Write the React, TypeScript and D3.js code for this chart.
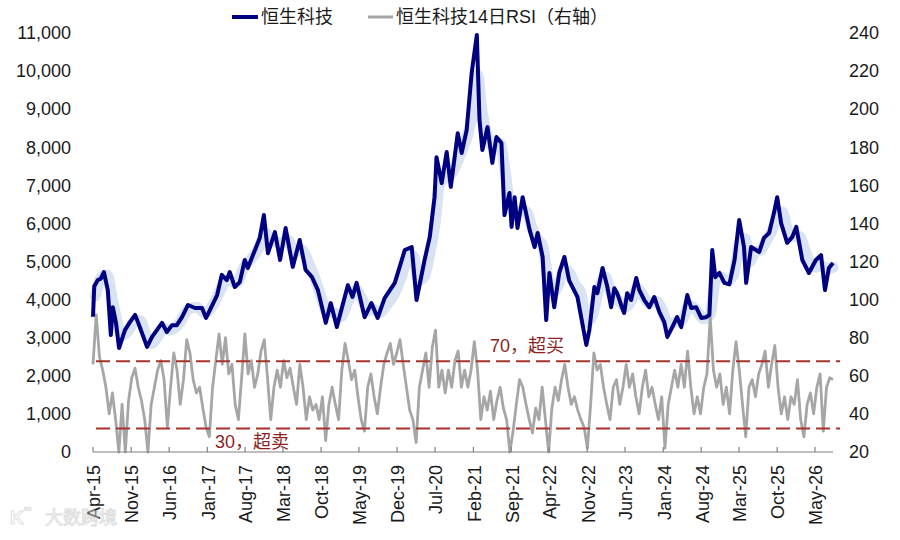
import React from "react";
import * as d3 from "d3";

// ---------- data ----------
// Hang Seng Tech index: [date, level]
const idxSeries: [string, number][] = [
  ["2015-04-01",3550],["2015-04-08",4350],["2015-04-28",4515],["2015-05-15",4550],["2015-06-01",4725],["2015-06-23",4250],
  ["2015-07-10",3070],["2015-07-21",3800],["2015-08-08",3390],["2015-08-25",2730],["2015-09-27",3200],["2015-10-25",3410],
  ["2015-11-23",3600],["2015-12-09",3410],["2016-01-01",3120],["2016-01-29",2760],["2016-02-26",3020],["2016-03-24",3200],
  ["2016-04-22",3390],["2016-05-19",3150],["2016-06-17",3330],["2016-07-14",3330],["2016-08-12",3540],["2016-09-15",3860],
  ["2016-10-24",3780],["2016-12-02",3780],["2016-12-25",3520],["2017-01-16",3730],["2017-02-25",4120],["2017-03-23",4650],
  ["2017-04-20",4515],["2017-05-07",4725],["2017-06-04",4330],["2017-07-02",4460],["2017-07-30",5040],["2017-08-16",4830],
  ["2017-09-14",5170],["2017-09-30",5355],["2017-10-22",5620],["2017-11-14",6220],["2017-12-07",5220],["2018-01-15",5775],
  ["2018-02-13",5040],["2018-03-16",5880],["2018-04-25",4860],["2018-06-03",5565],["2018-07-06",4780],["2018-08-10",4600],
  ["2018-09-13",4250],["2018-10-27",3390],["2018-11-24",3910],["2018-12-28",3280],["2019-02-28",4380],["2019-03-26",4070],
  ["2019-04-18",4440],["2019-06-02",3540],["2019-07-10",3910],["2019-08-14",3520],["2019-09-22",4040],["2019-11-18",4440],
  ["2020-01-13",5300],["2020-02-21",5380],["2020-03-19",3990],["2020-05-03",5040],["2020-06-01",5640],["2020-06-28",6690],
  ["2020-07-09",7740],["2020-08-07",7060],["2020-09-04",7875],["2020-09-27",6960],["2020-11-05",8370],["2020-11-27",7850],
  ["2020-12-25",8450],["2021-01-22",9950],["2021-02-20",10950],["2021-03-07",8715],["2021-03-23",7930],["2021-04-21",8530],
  ["2021-05-18",7590],["2021-06-10",8270],["2021-07-08",8110],["2021-07-25",6220],["2021-08-22",6800],["2021-09-03",5910],
  ["2021-09-20",6690],["2021-10-06",5880],["2021-11-04",6690],["2021-12-13",5830],["2022-01-10",5380],["2022-01-27",5750],
  ["2022-02-24",5120],["2022-03-16",3465],["2022-04-03",4700],["2022-04-30",3800],["2022-05-28",4700],["2022-06-26",5120],
  ["2022-07-23",4500],["2022-09-07",4070],["2022-10-27",2810],["2022-11-13",3200],["2022-12-11",4330],["2022-12-28",4170],
  ["2023-01-26",4830],["2023-02-22",4330],["2023-03-15",3800],["2023-04-02",4300],["2023-04-18",4170],["2023-05-10",3860],
  ["2023-05-27",3650],["2023-06-13",4170],["2023-07-05",3990],["2023-08-03",4570],["2023-08-20",4250],["2023-09-17",3990],
  ["2023-10-15",3800],["2023-11-12",4070],["2023-12-10",3680],["2024-01-07",3410],["2024-01-24",3020],["2024-02-21",3280],
  ["2024-03-19",3540],["2024-04-11",3280],["2024-05-15",4120],["2024-06-06",3780],["2024-07-04",3800],["2024-08-01",3520],
  ["2024-08-29",3540],["2024-09-16",3600],["2024-10-02",5300],["2024-10-19",4590],["2024-11-11",4700],["2024-12-09",4440],
  ["2025-01-06",4400],["2025-02-04",5040],["2025-03-02",6090],["2025-03-29",5380],["2025-04-10",4440],["2025-05-08",5380],
  ["2025-06-22",5250],["2025-07-19",5620],["2025-08-17",5750],["2025-09-14",6300],["2025-10-01",6690],["2025-10-23",6010],
  ["2025-11-26",5490],["2025-12-24",5640],["2026-01-16",5910],["2026-02-19",5040],["2026-03-28",4700],["2026-05-06",5040],
  ["2026-06-04",5170],["2026-06-26",4250],["2026-07-18",4830],["2026-08-10",4960],
];

// light-blue trailing band behind the index
const bandDates = [
  "2015-04-15","2015-05-20","2015-06-20","2015-07-15","2015-08-10","2015-09-10","2015-10-10","2015-11-15","2015-12-20","2016-01-25",
  "2016-02-25","2016-04-01","2016-05-01","2016-06-01","2016-07-01","2016-08-01","2016-09-15","2016-11-01","2016-12-20","2017-02-01",
  "2017-03-15","2017-04-20","2017-06-15","2017-07-30","2017-09-01","2017-10-15","2017-11-25","2017-12-25","2018-01-25","2018-03-01",
  "2018-04-01","2018-05-01","2018-06-15","2018-07-20","2018-08-20","2018-09-25","2018-11-01","2018-12-15","2019-01-20","2019-03-01",
  "2019-04-15","2019-05-20","2019-06-20","2019-07-25","2019-08-25","2019-10-01","2019-11-15","2019-12-25","2020-01-30","2020-03-01",
  "2020-03-30","2020-05-01","2020-06-01","2020-07-01","2020-07-25","2020-08-25","2020-10-01","2020-11-10","2020-12-15","2021-01-20",
  "2021-02-25","2021-03-20","2021-04-20","2021-05-30","2021-06-30","2021-07-25","2021-08-25","2021-09-25","2021-10-25","2021-11-25",
  "2021-12-25","2022-01-25","2022-02-25","2022-03-25","2022-04-25","2022-05-25","2022-06-25","2022-07-25","2022-08-25","2022-09-25",
  "2022-10-30","2022-12-01","2023-01-01","2023-02-10","2023-03-20","2023-05-01","2023-06-01","2023-07-10","2023-08-10","2023-09-10",
  "2023-10-15","2023-11-25","2023-12-20","2024-01-30","2024-03-01","2024-04-15","2024-05-25","2024-06-30","2024-08-15","2024-09-20",
  "2024-10-20","2024-11-20","2024-12-25","2025-01-30","2025-03-05","2025-04-05","2025-04-30","2025-05-30","2025-06-30","2025-08-01",
  "2025-09-01","2025-10-05","2025-10-30","2025-12-01","2026-01-05","2026-02-05","2026-03-05","2026-04-05","2026-05-05","2026-06-05",
  "2026-07-05","2026-08-10",
];
const bandValues = [
  4100,4600,4650,4100,3500,3050,3150,3400,3450,3050,
  2850,3050,3250,3200,3250,3400,3750,3800,3650,3850,
  4250,4500,4450,4900,5050,5350,5750,5550,5500,5500,
  5550,5250,5300,5000,4650,4150,3700,3650,3550,3950,
  4250,4000,3700,3750,3650,3850,4150,4600,5100,5150,
  4500,4600,5200,6000,7000,7200,7300,7700,8100,8700,
  9900,9000,8300,8000,8100,7500,6500,6300,6300,6300,
  5900,5600,5400,4600,4200,4400,4800,4700,4400,4200,
  3400,3600,4200,4600,4100,3950,3800,4000,4300,4100,
  3900,3950,3800,3350,3400,3450,3850,3750,3500,3600,
  4500,4600,4500,4650,5500,5600,5000,5250,5300,5550,
  5800,6200,6300,5800,5650,5650,5300,4950,4850,4900,
  4800,4850,
];

// 14-day RSI, read left to right at even spacing across the date range
const rsiStart = "2015-04-01";
const rsiEnd = "2026-08-10";
const rsiValues = [
  66,92,70,63,54,40,51,37,20,45,20,47,59,64,54,47,37,20,45,54,63,68,58,33,54,72,63,45,58,79,72,58,51,54,43,33,28,54,68,82,
  66,80,61,66,45,37,59,82,61,68,54,61,73,79,59,37,54,63,54,68,59,64,54,45,66,54,37,49,42,45,37,49,26,45,54,45,37,63,77,68,
  58,63,49,37,31,54,61,49,40,54,66,72,77,66,72,79,66,54,42,37,25,54,63,72,54,75,84,54,63,51,63,54,68,73,54,
  63,54,63,78,63,37,49,42,52,37,47,54,43,37,20,31,45,58,54,45,37,30,43,37,54,37,20,43,54,47,58,66,54,45,49,42,37,33,22,45,
  72,63,66,54,45,37,54,58,45,54,66,54,61,49,40,54,63,49,54,45,37,49,22,45,54,63,54,66,54,73,54,40,49,40,54,61,91,63,54,61,
  45,54,40,63,78,63,45,28,54,58,49,61,66,73,54,66,76,54,40,49,37,49,45,58,37,28,45,51,40,54,61,31,54,59,58,
];

const leftTicks = [0,1000,2000,3000,4000,5000,6000,7000,8000,9000,10000,11000];
const rightTicks = [20,40,60,80,100,120,140,160,180,200,220,240];
const xTickStart = "2015-04-01";
const xTickCount = 20; // every 7 months: Apr-15 ... May-26
const overbought = { value: 67.6, label: "70，超买" };
const oversold = { value: 32.3, label: "30，超卖" };
const legendNames = ["恒生科技", "恒生科技14日RSI（右轴）"];

// ---------- chart ----------
const FONT = "'Liberation Sans', Arial, 'Noto Sans CJK SC', sans-serif";
const parse = d3.timeParse("%Y-%m-%d");

type P = { d: Date; v: number };

export default function App() {
  const x = d3.scaleTime().domain([parse("2015-04-01")!, parse("2026-08-10")!]).range([93, 833]);
  const yL = d3.scaleLinear().domain([0, 11000]).range([452, 33]);
  const yR = d3.scaleLinear().domain([20, 240]).range([452, 33]);

  const idx: P[] = idxSeries.map(([d, v]) => ({ d: parse(d)!, v }));
  const band: P[] = bandDates.map((d, i) => ({ d: parse(d)!, v: bandValues[i] }));
  const t0 = parse(rsiStart)!.getTime();
  const t1 = parse(rsiEnd)!.getTime();
  const rsi: P[] = rsiValues.map((v, i) => ({ d: new Date(t0 + ((t1 - t0) * i) / (rsiValues.length - 1)), v }));

  const lineL = d3.line<P>().x((p) => x(p.d)).y((p) => yL(p.v));
  const lineR = d3.line<P>().x((p) => x(p.d)).y((p) => yR(p.v));
  const bandLine = d3.line<P>().x((p) => x(p.d)).y((p) => yL(p.v)).curve(d3.curveMonotoneX);

  const fmtMonth = d3.timeFormat("%b-%y");
  const xTicks = d3.range(xTickCount).map((i) => d3.timeMonth.offset(parse(xTickStart)!, 7 * i));
  const fmtComma = d3.format(",");

  return (
    <svg width={900} height={540} style={{ position: "absolute", left: 0, top: 0, background: "#fff" }} fontFamily={FONT}>
      {/* legend */}
      <g fontSize={18} fill="#1a1a1a">
        <line x1={232} x2={258} y1={17} y2={17} stroke="#000080" strokeWidth={4} />
        <text x={261} y={17} dy="0.35em">{legendNames[0]}</text>
        <line x1={368} x2={393} y1={17} y2={17} stroke="#a6a6a6" strokeWidth={3} />
        <text x={396} y={17} dy="0.35em">{legendNames[1]}</text>
      </g>

      {/* left axis labels */}
      <g fontSize={18} fill="#1a1a1a" textAnchor="end">
        {leftTicks.map((t) => (
          <text key={t} x={71} y={yL(t)} dy="0.35em">{fmtComma(t)}</text>
        ))}
      </g>
      {/* right axis labels */}
      <g fontSize={18} fill="#1a1a1a" textAnchor="start">
        {rightTicks.map((t) => (
          <text key={t} x={849} y={yR(t)} dy="0.35em">{t}</text>
        ))}
      </g>

      {/* band */}
      <path d={bandLine(band) || ""} fill="none" stroke="#d9e3f2" strokeWidth={11} strokeLinejoin="round" strokeLinecap="round" />

      {/* RSI */}
      <path d={lineR(rsi) || ""} fill="none" stroke="#a6a6a6" strokeWidth={2.8} strokeLinejoin="round" />

      {/* threshold lines */}
      <line x1={96} x2={840} y1={yR(overbought.value)} y2={yR(overbought.value)} stroke="#a8322d" strokeWidth={2} strokeDasharray="14,6" />
      <line x1={96} x2={840} y1={yR(oversold.value)} y2={yR(oversold.value)} stroke="#a8322d" strokeWidth={2} strokeDasharray="14,6" />
      <text x={490} y={352} fontSize={18} fill="#8e1f1f">{overbought.label}</text>
      <text x={215} y={448} fontSize={18} fill="#8e1f1f">{oversold.label}</text>

      {/* index */}
      <path d={lineL(idx) || ""} fill="none" stroke="#000080" strokeWidth={4} strokeLinejoin="round" />

      {/* x axis */}
      <line x1={93} x2={833} y1={452} y2={452} stroke="#808080" strokeWidth={1.2} />
      {xTicks.map((t, i) => (
        <g key={i}>
          <line x1={x(t)} x2={x(t)} y1={452} y2={447} stroke="#808080" strokeWidth={1.2} />
          <text transform={`translate(${x(t) + 1},465) rotate(-90)`} textAnchor="end" dy="0.35em" fontSize={18} fill="#1a1a1a">
            {fmtMonth(t)}
          </text>
        </g>
      ))}

      {/* watermark */}
      <g opacity={0.55}>
        <text x={10} y={524} fontSize={19} fill="#fff" stroke="#c8c8c8" strokeWidth={1} fontWeight="bold">K</text>
        <text x={24} y={512} fontSize={11} fill="#fff" stroke="#c8c8c8" strokeWidth={0.8}>∞</text>
        <text x={45} y={524} fontSize={18} fill="#fff" stroke="#c8c8c8" strokeWidth={1}>大数跨境</text>
      </g>
    </svg>
  );
}
